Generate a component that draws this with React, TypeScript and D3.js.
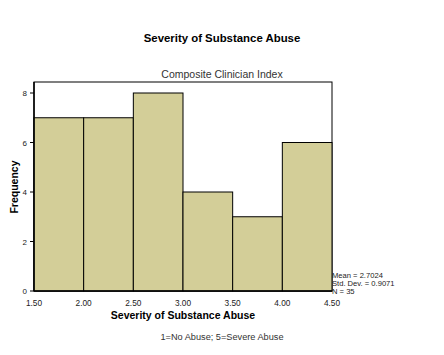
import React from "react";
import * as d3 from "d3";

const binStarts = [1.5, 2.0, 2.5, 3.0, 3.5, 4.0];
const binWidth = 0.5;
const counts = [7, 7, 8, 4, 3, 6];
const xTicks = [1.5, 2.0, 2.5, 3.0, 3.5, 4.0, 4.5];
const yTicks = [0, 2, 4, 6, 8];
const statsLines = ["Mean = 2.7024", "Std. Dev. = 0.9071", "N = 35"];

export default function App() {
  const W = 444, H = 355;
  const left = 34, right = 332, top = 82, bottom = 291;
  const x = d3.scaleLinear().domain([1.5, 4.5]).range([left, right]);
  const y = d3.scaleLinear().domain([0, 8]).range([bottom, 93]);
  const font = "Arial, 'Liberation Sans', sans-serif";
  return (
    <svg width={W} height={H} style={{ position: "absolute", left: 0, top: 0, background: "#fff" }} fontFamily={font}>
      <rect x={0} y={0} width={W} height={H} fill="#fff" />
      <text x={222} y={42} textAnchor="middle" fontSize={11.4} fontWeight="bold">Severity of Substance Abuse</text>
      <text x={222} y={78} textAnchor="middle" fontSize={10.5} fill="#333">Composite Clinician Index</text>
      <rect x={left} y={top} width={right - left} height={bottom - top} fill="#fff" stroke="#000" strokeWidth={1} />
      {binStarts.map((b, i) => (
        <rect key={i} x={x(b)} y={y(counts[i])} width={x(b + binWidth) - x(b)} height={bottom - y(counts[i])}
          fill="#d3ce98" stroke="#000" strokeWidth={1} />
      ))}
      <line x1={left} x2={left} y1={top} y2={bottom} stroke="#000" strokeWidth={1.5} />
      <line x1={left} x2={right} y1={bottom} y2={bottom} stroke="#000" strokeWidth={1.5} />
      {yTicks.map((t) => (
        <g key={t}>
          <line x1={left - 4} x2={left} y1={y(t)} y2={y(t)} stroke="#000" />
          <text x={left - 7} y={y(t) + 3} textAnchor="end" fontSize={8} fill="#222">{t}</text>
        </g>
      ))}
      {xTicks.map((t) => (
        <text key={t} x={x(t)} y={306} textAnchor="middle" fontSize={8.3} fill="#222">{t.toFixed(2)}</text>
      ))}
      <text x={183} y={319} textAnchor="middle" fontSize={10.5} fontWeight="bold">Severity of Substance Abuse</text>
      <text transform={`translate(18,187) rotate(-90)`} textAnchor="middle" fontSize={10.5} fontWeight="bold">Frequency</text>
      <text x={222} y={340} textAnchor="middle" fontSize={9.2} fill="#333">1=No Abuse; 5=Severe Abuse</text>
      {statsLines.map((s, i) => (
        <text key={i} x={332} y={278 + i * 8} fontSize={7.6} fill="#222">{s}</text>
      ))}
    </svg>
  );
}
